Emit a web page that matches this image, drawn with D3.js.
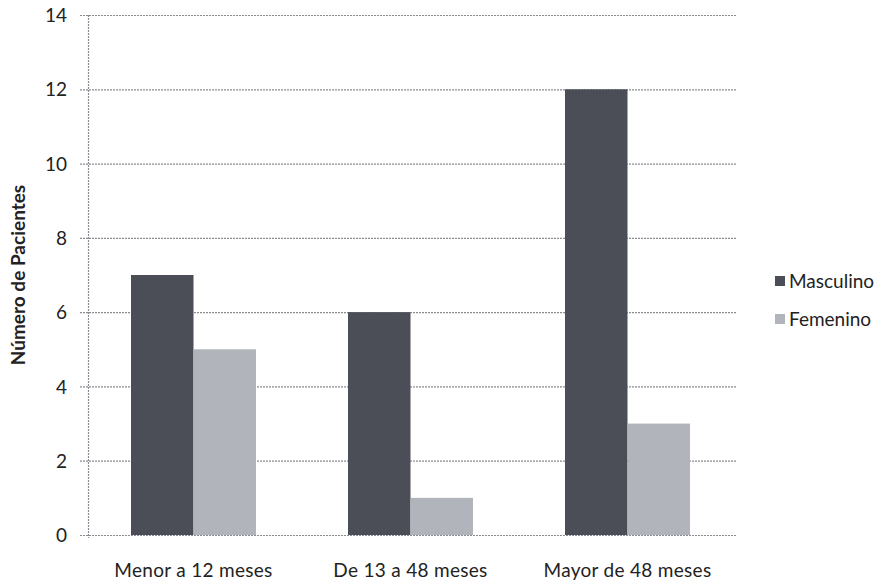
<!DOCTYPE html>
<html>
<head>
<meta charset="utf-8">
<script src="https://cdn.jsdelivr.net/npm/d3@7"></script>
<style>
  html, body { margin: 0; padding: 0; background: #fff; }
  svg { display: block; font-family: Lato, "Open Sans", sans-serif; }
</style>
</head>
<body>
<svg id="chart" width="881" height="585"></svg>
<script>
// Patients by age group and sex
const categories = ["Menor a 12 meses", "De 13 a 48 meses", "Mayor de 48 meses"];
const seriesNames = ["Masculino", "Femenino"];
const masculino = [7, 6, 12];
const femenino = [5, 1, 3];
const yTicks = [0, 2, 4, 6, 8, 10, 12, 14];

const colors = { Masculino: "#4b4e56", Femenino: "#b1b4bb" };
const values = { Masculino: masculino, Femenino: femenino };

const svg = d3.select("#chart");
const plot = { left: 88, right: 737, top: 15, bottom: 535 };

const x0 = d3.scaleBand()
  .domain(categories)
  .range([85, 736])
  .paddingInner(0.424)
  .paddingOuter(0.212);

const x1 = d3.scaleBand()
  .domain(seriesNames)
  .range([0, x0.bandwidth()]);

const y = d3.scaleLinear()
  .domain([0, 14])
  .range([plot.bottom, plot.top]);

// Horizontal gridlines
svg.append("g")
  .selectAll("line")
  .data(yTicks)
  .join("line")
  .attr("x1", 80)
  .attr("x2", plot.right)
  .attr("y1", d => y(d) + 0.5)
  .attr("y2", d => y(d) + 0.5)
  .attr("stroke", "#8a8c92")
  .attr("stroke-width", 1.2)
  .attr("stroke-dasharray", "2,1");

// Vertical axis line
svg.append("line")
  .attr("x1", plot.left + 0.5).attr("x2", plot.left + 0.5)
  .attr("y1", plot.top).attr("y2", plot.bottom + 3)
  .attr("stroke", "#8a8c92")
  .attr("stroke-width", 1.2)
  .attr("stroke-dasharray", "2,1");

// Bars
const groups = svg.append("g")
  .selectAll("g")
  .data(categories)
  .join("g")
  .attr("transform", d => `translate(${x0(d)},0)`);

groups.selectAll("rect")
  .data((d, i) => seriesNames.map(s => ({ key: s, value: values[s][i] })))
  .join("rect")
  .attr("x", d => x1(d.key))
  .attr("width", x1.bandwidth())
  .attr("y", d => y(d.value))
  .attr("height", d => y(0) - y(d.value))
  .attr("fill", d => colors[d.key]);

// Y axis labels
const yAxis = d3.axisLeft(y).tickValues(yTicks).tickSize(0).tickPadding(0);
const ya = svg.append("g")
  .attr("transform", `translate(67,0)`)
  .call(yAxis);
ya.select(".domain").remove();
ya.selectAll("text")
  .attr("font-size", 19)
  .attr("font-family", "Lato, sans-serif")
  .attr("fill", "#222")
  .attr("dy", "0.35em");

// X axis labels
const xa = svg.append("g")
  .attr("transform", `translate(0,${plot.bottom})`)
  .call(d3.axisBottom(x0).tickSize(0).tickPadding(0));
xa.select(".domain").remove();
xa.selectAll("text")
  .attr("y", 42)
  .attr("dy", "0")
  .attr("font-size", 19)
  .attr("letter-spacing", "0.3px")
  .attr("font-family", "Lato, sans-serif")
  .attr("fill", "#222");

// Y axis title
svg.append("text")
  .attr("transform", "translate(25,275) rotate(-90)")
  .attr("text-anchor", "middle")
  .attr("font-size", 19)
  .attr("font-weight", "bold")
  .attr("fill", "#222")
  .text("Número de Pacientes");

// Legend
const legend = svg.append("g")
  .selectAll("g")
  .data(seriesNames)
  .join("g")
  .attr("transform", (d, i) => `translate(775,${281 + i * 38})`);

legend.append("rect")
  .attr("x", 0).attr("y", -5)
  .attr("width", 10).attr("height", 10)
  .attr("fill", d => colors[d]);

legend.append("text")
  .attr("x", 14)
  .attr("dy", "0.35em")
  .attr("font-size", 19)
  .attr("fill", "#222")
  .text(d => d);
</script>
</body>
</html>
